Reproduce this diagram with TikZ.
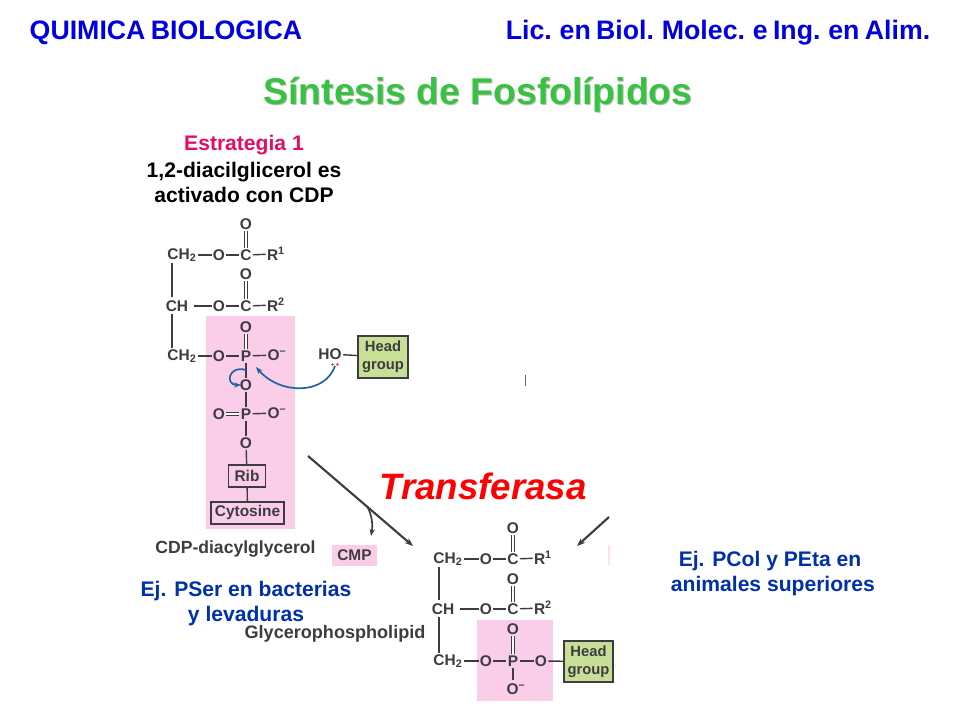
\documentclass[tikz,border=0pt]{standalone}
\usepackage{fontspec}
\setmainfont{Liberation Sans}
\usetikzlibrary{arrows.meta}
\definecolor{titleblue}{RGB}{0,0,225}
\definecolor{noteblue}{RGB}{0,48,170}
\definecolor{estratred}{RGB}{225,15,100}
\definecolor{titlegreen}{RGB}{55,195,65}
\definecolor{pinkbg}{RGB}{250,205,232}
\definecolor{headgreen}{RGB}{200,224,150}
\definecolor{inkgray}{RGB}{60,60,65}
\definecolor{curvblue}{RGB}{30,100,160}
\newcommand{\tightwords}{\spaceskip 0.2em\relax}
\tikzset{
    atom/.style={inner sep=0pt, outer sep=1pt, text=inkgray, font=\fontsize{11}{12}\selectfont\bfseries},
    bond/.style={inkgray, line width=1pt},
    dbond/.style={inkgray, double, double distance=1.2pt, line width=0.7pt},
    boxed/.style={draw=inkgray, line width=0.9pt, inner sep=0pt, align=center, text=inkgray, font=\fontsize{10.5}{12.5}\selectfont\bfseries},
    heading/.style={text=titleblue, font=\fontsize{19}{22}\selectfont\bfseries\tightwords, inner sep=0pt},
    blueline/.style={text=noteblue, font=\fontsize{15}{17.8}\selectfont\bfseries, align=center, inner sep=0pt},
}
\begin{document}
\begin{tikzpicture}[x=0.025cm, y=-0.025cm]
    \useasboundingbox (0,0) rectangle (960,720);
    \fill[white] (0,0) rectangle (960,720);
    % pink areas
    \fill[pinkbg] (206,316) rectangle (295,529);
    \fill[pinkbg] (332,545) rectangle (377,566);
    \fill[pinkbg] (477,620) rectangle (553,701);
    \fill[pinkbg!60] (608,545) rectangle (610,565);

    % headers
    \node[heading] (course) at (166,33) {QUIMICA BIOLOGICA};
    \node[heading] (career) at (718,33) {Lic. en Biol. Molec. e Ing. en Alim.};
    \node[text=black!25, font=\fontsize{26.5}{30}\selectfont\bfseries, inner sep=0pt] (titleshadow) at (479,96) {Síntesis de Fosfolípidos};
    \node[text=titlegreen, font=\fontsize{26.5}{30}\selectfont\bfseries, inner sep=0pt] (title) at (478,95) {Síntesis de Fosfolípidos};

    \node[text=estratred, font=\fontsize{15}{18}\selectfont\bfseries, inner sep=0pt] (estrat) at (244,145) {Estrategia 1};
    \node[font=\fontsize{15}{17.8}\selectfont\bfseries, inner sep=0pt, align=center] (activ) at (244,182) {1,2-diacilglicerol es\\activado con CDP};

    % CDP-diacylglycerol
    \node[atom] (a1) at (182,255) {CH\textsubscript{2}};
    \node[atom] (a2) at (219,255) {O};
    \node[atom] (a3) at (246,255) {C};
    \node[atom] (a4) at (276,254) {R\textsuperscript{1}};
    \node[atom] (a5) at (246,224) {O};
    \node[atom] (b1) at (177,306) {CH};
    \node[atom] (b2) at (219,306) {O};
    \node[atom] (b3) at (246,306) {C};
    \node[atom] (b4) at (276,305) {R\textsuperscript{2}};
    \node[atom] (b5) at (246,274) {O};
    \node[atom] (c1) at (182,356) {CH\textsubscript{2}};
    \node[atom] (c2) at (219,356) {O};
    \node[atom] (c3) at (246,356) {P};
    \node[atom] (c4) at (277,355) {O\textsuperscript{--}};
    \node[atom] (c5) at (246,327) {O};
    \node[atom] (d1) at (246,385) {O};
    \node[atom] (e1) at (219,414) {O};
    \node[atom] (e2) at (246,414) {P};
    \node[atom] (e3) at (277,413) {O\textsuperscript{--}};
    \node[atom] (f1) at (246,443) {O};
    \node[boxed, minimum width=26pt, minimum height=15.5pt, font=\fontsize{11}{12}\selectfont\bfseries] (rib) at (247,476) {Rib};
    \node[boxed, minimum width=52pt, minimum height=15.5pt, font=\fontsize{11}{12}\selectfont\bfseries] (cyt) at (247.5,513) {Cytosine};
    \node[atom] (ho) at (330,354) {HO};
    \node[boxed, fill=headgreen, minimum width=35.5pt, minimum height=30pt] (head) at (383,357) {Head\\group};
    \coordinate (lone) at (335,366);
    \fill[red!80] (332.5,364.5) circle (1.3);
    \fill[red!80] (337.5,364.5) circle (1.3);
    \node[text=inkgray, font=\fontsize{12.5}{14}\selectfont\bfseries, inner sep=0pt] (cdp) at (235.5,549) {CDP-diacylglycerol};
    \node[text=inkgray, font=\fontsize{11}{12}\selectfont\bfseries, inner sep=0pt] (cmp) at (354.5,555) {CMP};
    \coordinate (a1low) at (172,263);
    \coordinate (b1top) at (172,297);
    \coordinate (b1low) at (172,314);
    \coordinate (c1top) at (172,348);
    \coordinate (b1out) at (194,306);

    \draw[bond] (a1) -- (a2);
    \draw[bond] (a2) -- (a3);
    \draw[bond] (a3) -- (a4);
    \draw[dbond] (a3) -- (a5);
    \draw[bond] (a1low) -- (b1top);
    \draw[bond] (b1low) -- (c1top);
    \draw[bond] (b1out) -- (b2);
    \draw[bond] (b2) -- (b3);
    \draw[bond] (b3) -- (b4);
    \draw[dbond] (b3) -- (b5);
    \draw[bond] (c1) -- (c2);
    \draw[bond] (c2) -- (c3);
    \draw[bond] (c3) -- (c4);
    \draw[dbond] (c3) -- (c5);
    \draw[bond] (c3) -- (d1);
    \draw[bond] (d1) -- (e2);
    \draw[dbond] (e1) -- (e2);
    \draw[bond] (e2) -- (e3);
    \draw[bond] (e2) -- (f1);
    \draw[bond] (f1) -- (rib);
    \draw[bond] (rib) -- (cyt);
    \draw[bond] (ho) -- (head);

    % curved electron arrows
    \coordinate (ptip) at (256,367);
    \coordinate (otip) at (241,385);
    \coordinate (pbond) at (246,370);
    \draw[curvblue, line width=1.2pt, -{Stealth[length=5pt]}] (lone) .. controls (325,395) and (280,395) .. (ptip);
    \draw[curvblue, line width=1.2pt, -{Stealth[length=5pt]}] (pbond) .. controls (228,365) and (225,385) .. (otip);

    % reaction arrows
    \coordinate (arrowstart) at (308,456);
    \coordinate (arrowend) at (413,546);
    \coordinate (branch) at (367,506);
    \coordinate (cmptip) at (371,536);
    \coordinate (rightstart) at (609,517);
    \coordinate (rightend) at (577,546);
    \draw[inkgray, line width=1.5pt, -{Stealth[length=6pt]}] (arrowstart) -- (arrowend);
    \draw[inkgray, line width=1.2pt, -{Stealth[length=5pt]}] (branch) .. controls (372,515) and (373,525) .. (cmptip);
    \draw[inkgray, line width=1.5pt, -{Stealth[length=6pt]}] (rightstart) -- (rightend);

    \node[text=red, font=\fontsize{26.1}{28}\selectfont\bfseries\itshape, inner sep=0pt] (transf) at (483,486) {Transferasa};
    \node[blueline] (ejser) at (246,604) {Ej. PSer en bacterias\\y levaduras};
    \node[blueline] (ejpcol) at (770,574) {Ej. PCol y PEta en\\\ animales superiores};
    \node[text=inkgray, font=\fontsize{12.85}{14}\selectfont\bfseries, inner sep=0pt] (gpl) at (335,634) {Glycerophospholipid};
    \fill[black!60] (524.5,375) rectangle (525.5,386);

    % Glycerophospholipid
    \node[atom] (g1) at (448,559) {CH\textsubscript{2}};
    \node[atom] (g2) at (486,559) {O};
    \node[atom] (g3) at (513,559) {C};
    \node[atom] (g4) at (543,558) {R\textsuperscript{1}};
    \node[atom] (g5) at (513,528) {O};
    \node[atom] (h1) at (443,609) {CH};
    \node[atom] (h2) at (486,609) {O};
    \node[atom] (h3) at (513,609) {C};
    \node[atom] (h4) at (543,608) {R\textsuperscript{2}};
    \node[atom] (h5) at (513,579) {O};
    \node[atom] (i1) at (448,661) {CH\textsubscript{2}};
    \node[atom] (i2) at (486,661) {O};
    \node[atom] (i3) at (513,661) {P};
    \node[atom] (i4) at (541,661) {O};
    \node[atom] (i5) at (513,629) {O};
    \node[atom] (i6) at (516,689) {O\textsuperscript{--}};
    \node[boxed, fill=headgreen, minimum width=35pt, minimum height=29pt] (headb) at (588.5,661.5) {Head\\group};
    \coordinate (g1low) at (439,567);
    \coordinate (h1top) at (439,600);
    \coordinate (h1low) at (439,617);
    \coordinate (i1top) at (439,653);
    \coordinate (h1out) at (460,609);
    \coordinate (i6top) at (513,680);
    \draw[bond] (g1) -- (g2);
    \draw[bond] (g2) -- (g3);
    \draw[bond] (g3) -- (g4);
    \draw[dbond] (g3) -- (g5);
    \draw[bond] (g1low) -- (h1top);
    \draw[bond] (h1low) -- (i1top);
    \draw[bond] (h1out) -- (h2);
    \draw[bond] (h2) -- (h3);
    \draw[bond] (h3) -- (h4);
    \draw[dbond] (h3) -- (h5);
    \draw[bond] (i1) -- (i2);
    \draw[bond] (i2) -- (i3);
    \draw[bond] (i3) -- (i4);
    \draw[dbond] (i3) -- (i5);
    \draw[bond] (i3) -- (i6top);
    \draw[bond] (i4) -- (headb);
\end{tikzpicture}
\end{document}
